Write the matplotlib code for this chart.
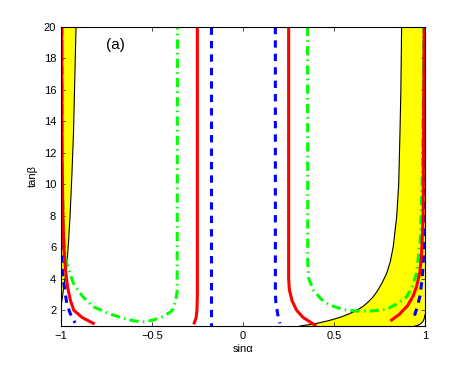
import matplotlib
matplotlib.use("Agg")
import matplotlib.pyplot as plt

plt.rcParams['font.family'] = ['Liberation Sans', 'DejaVu Sans']

# black boundary of the allowed (yellow) regions
bound_left_x = [-1.0, -0.992, -0.985, -0.976, -0.969, -0.96, -0.951, -0.941, -0.932, -0.925, -0.918]
bound_left_y = [2.23, 2.9, 3.5, 4.2, 4.77, 6.2, 7.94, 10.5, 13.2, 16.5, 20]
bound_right_x = [0.313, 0.36, 0.405, 0.47, 0.533, 0.585, 0.625, 0.66, 0.69, 0.716, 0.74,
                 0.765, 0.79, 0.81, 0.826, 0.845, 0.856, 0.863, 0.868, 0.872]
bound_right_y = [1.0, 1.08, 1.17, 1.34, 1.55, 1.78, 2.0, 2.25, 2.55, 2.86, 3.25,
                 3.75, 4.35, 5.1, 6.04, 7.94, 10.0, 13.24, 16.0, 20]
corner_x = [0.945, 0.962, 0.978, 0.99, 0.997, 1.0]
corner_y = [1.0, 1.05, 1.15, 1.3, 1.5, 1.7]

# red solid curves
red_left_x = [-0.997, -0.995, -0.99, -0.985, -0.976, -0.965, -0.948, -0.93, -0.885, -0.823]
red_left_y = [20, 12, 8, 6, 4.6, 3.5, 2.6, 2.0, 1.55, 1.17]
red_mid_x = [-0.251, -0.251, -0.253, -0.258, -0.268]
red_mid_y = [20, 3, 2, 1.5, 1.2]
red_cen_x = [0.251, 0.251, 0.255, 0.27, 0.295, 0.33, 0.37, 0.396]
red_cen_y = [20, 4, 3.3, 2.6, 2.0, 1.55, 1.25, 1.06]
red_right_x = [0.817, 0.86, 0.905, 0.935, 0.954, 0.972, 0.982, 0.99, 0.996]
red_right_y = [1.38, 1.75, 2.3, 2.9, 3.5, 4.4, 5.6, 7.9, 20]

# blue dashed curves
blue_left_x = [-0.997, -0.996, -0.993, -0.985, -0.969, -0.95, -0.923]
blue_left_y = [20, 6, 4.5, 3.7, 2.44, 1.8, 1.2]
blue_mid_x = [-0.178, -0.178]
blue_mid_y = [20, 1.0]
blue_cen_x = [0.178, 0.178, 0.18, 0.19, 0.203]
blue_cen_y = [20, 3.2, 2.6, 1.8, 1.17]
blue_right_x = [0.997, 0.995, 0.991, 0.985, 0.973, 0.955, 0.936]
blue_right_y = [20, 6.9, 4.98, 4.0, 2.9, 2.1, 1.4]

# green dash-dot curves
green_left_x = [-0.995, -0.993, -0.984, -0.969, -0.95, -0.932, -0.88, -0.823, -0.74,
                -0.658, -0.6, -0.548, -0.493, -0.44, -0.398, -0.383, -0.37, -0.362, -0.36]
green_left_y = [20, 10, 6.25, 4.98, 4.3, 3.71, 2.85, 2.23, 1.8,
                1.49, 1.33, 1.27, 1.38, 1.6, 1.9, 2.1, 2.6, 3.2, 20]
green_right_x = [0.355, 0.356, 0.362, 0.386, 0.43, 0.478, 0.55, 0.624, 0.7, 0.79,
                 0.86, 0.9, 0.93, 0.954, 0.975, 0.987, 0.995]
green_right_y = [20, 5, 4.0, 3.3, 2.7, 2.33, 2.05, 1.95, 1.95, 2.06,
                 2.5, 2.86, 3.5, 4.35, 6.5, 11, 20]

fig = plt.figure(figsize=(4.7, 3.68), dpi=100)
ax = fig.add_axes([0.130, 0.114, 0.774, 0.813])

# yellow regions
ax.fill(bound_left_x + [-1.0], bound_left_y + [20], color="yellow", lw=0)
ax.fill(bound_right_x + [1.0] + corner_x[::-1],
        bound_right_y + [20] + corner_y[::-1], color="yellow", lw=0)
ax.plot(bound_left_x, bound_left_y, color="black", lw=0.8)
ax.plot(bound_right_x, bound_right_y, color="black", lw=0.8)
ax.plot(corner_x, corner_y, color="black", lw=0.8)

for xs, ys in [(blue_left_x, blue_left_y), (blue_mid_x, blue_mid_y),
               (blue_cen_x, blue_cen_y), (blue_right_x, blue_right_y)]:
    ax.plot(xs, ys, color=(0, 0, 1), lw=2.2, dashes=(2.4, 2.0))

for xs, ys in [(green_left_x, green_left_y), (green_right_x, green_right_y)]:
    ax.plot(xs, ys, color=(0, 1, 0), lw=2.2, dashes=(3, 1.4, 0.5, 1.4))

for xs, ys in [(red_left_x, red_left_y), (red_mid_x, red_mid_y),
               (red_cen_x, red_cen_y), (red_right_x, red_right_y)]:
    ax.plot(xs, ys, color=(1, 0, 0), lw=2.2)

ax.text(-0.70, 18.85, "(a)", fontsize=11, ha="center", va="center")

ax.set_xlim(-1, 1)
ax.set_ylim(1, 20)
ax.set_xticks([-1, -0.5, 0, 0.5, 1])
ax.set_xticklabels(["\u22121", "\u22120.5", "0", "0.5", "1"])
ax.set_yticks(range(2, 21, 2))
ax.tick_params(direction="in", top=True, right=True, labelsize=8, length=3, width=0.5)
ax.set_xlabel("sin\u03b1", fontsize=8, labelpad=2)
ax.set_ylabel("tan\u03b2", fontsize=8, labelpad=4)

fig.savefig("out.png", dpi=100)
